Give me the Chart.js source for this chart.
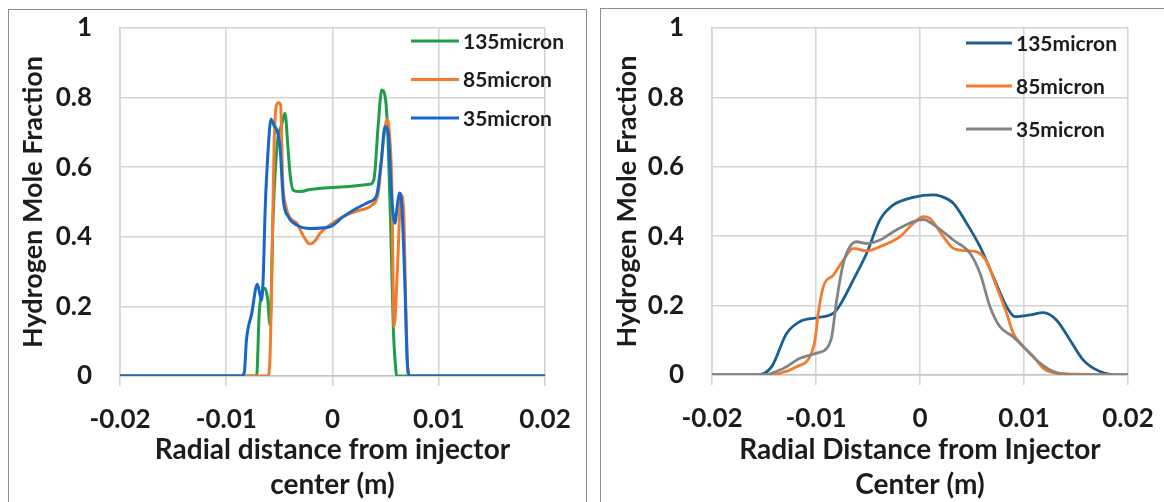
<!DOCTYPE html>
<html>
<head>
<meta charset="utf-8">
<script src="https://cdn.jsdelivr.net/npm/chart.js@4.4.1/dist/chart.umd.min.js"></script>
<style>
  html, body { margin: 0; padding: 0; background: #fff; }
  body { width: 1164px; height: 502px; position: relative; overflow: hidden; }
  .panel { position: absolute; border: 1.5px solid #8c8c8c; box-sizing: border-box; }
  canvas { position: absolute; }
</style>
</head>
<body>
<div class="panel" style="left:8px; top:9px; width:579px; height:520px;"></div>
<div class="panel" style="left:600px; top:8px; width:600px; height:520px;"></div>
<canvas id="chartLeft" width="575" height="491" style="left:10px; top:11px;"></canvas>
<canvas id="chartRight" width="562" height="492" style="left:602px; top:10px;"></canvas>
<script>
// ejes comunes
const xTickValues = [-0.02, -0.01, 0, 0.01, 0.02];
const xTickLabels = ['-0.02', '-0.01', '0', '0.01', '0.02'];
const yTickValues = [0, 0.2, 0.4, 0.6, 0.8, 1];
const yTickLabels = ['0', '0.2', '0.4', '0.6', '0.8', '1'];
const seriesNames = ['135micron', '85micron', '35micron'];

// panel izquierdo: Radial distance from injector center
const left135x = [-0.02, -0.00714, -0.0069, -0.00665, -0.00635, -0.0061, -0.00588, -0.0056, -0.0052, -0.0048, -0.00447, -0.0042, -0.004, -0.0037, -0.00306, -0.00212, 0, 0.00353, 0.0039, 0.0043, 0.00463, 0.005, 0.00525, 0.0055, 0.00573, 0.0059, 0.00605, 0.02];
const left135y = [0, 0, 0.18, 0.24, 0.252, 0.22, 0.147, 0.45, 0.668, 0.72, 0.755, 0.66, 0.582, 0.534, 0.53, 0.536, 0.542, 0.551, 0.565, 0.72, 0.822, 0.793, 0.659, 0.4, 0.132, 0.04, 0, 0];
const left85x = [-0.02, -0.0061, -0.0059, -0.00572, -0.0055, -0.0053, -0.0051, -0.00488, -0.00469, -0.00438, -0.004, -0.00337, -0.0027, -0.00212, -0.0016, -0.00118, -0.00024, 0.001, 0.00228, 0.00369, 0.0043, 0.0048, 0.00516, 0.0054, 0.00557, 0.0058, 0.0061, 0.00645, 0.0067, 0.0069, 0.00715, 0.02];
const left85y = [0, 0, 0.04, 0.276, 0.659, 0.775, 0.785, 0.779, 0.563, 0.487, 0.455, 0.439, 0.4, 0.379, 0.39, 0.41, 0.434, 0.458, 0.474, 0.491, 0.525, 0.68, 0.738, 0.68, 0.563, 0.142, 0.3, 0.52, 0.47, 0.2, 0, 0];
const left35x = [-0.02, -0.0086, -0.0083, -0.0081, -0.0076, -0.00708, -0.00667, -0.0065, -0.00635, -0.00604, -0.00579, -0.0055, -0.00525, -0.00494, -0.00463, -0.00416, -0.00337, -0.00212, -0.00024, 0.00102, 0.00228, 0.00353, 0.00416, 0.0046, 0.00494, 0.00525, 0.00557, 0.00588, 0.0061, 0.0063, 0.0065, 0.0068, 0.00704, 0.0073, 0.02];
const left35y = [0, 0, 0.01, 0.103, 0.18, 0.264, 0.218, 0.3, 0.468, 0.659, 0.738, 0.72, 0.707, 0.659, 0.506, 0.458, 0.434, 0.424, 0.429, 0.458, 0.482, 0.501, 0.52, 0.62, 0.716, 0.697, 0.515, 0.439, 0.49, 0.526, 0.5, 0.276, 0.037, 0, 0];

// panel derecho: Radial Distance from Injector Center
const right135x = [-0.02, -0.0157, -0.01426, -0.01282, -0.01154, -0.00993, -0.00833, -0.00769, -0.00641, -0.00513, -0.00385, -0.00257, -0.00064, 0.00128, 0.00192, 0.0032, 0.00449, 0.00577, 0.00705, 0.00833, 0.00913, 0.01058, 0.01186, 0.01314, 0.01442, 0.0157, 0.01731, 0.0192, 0.02];
const right135y = [0, 0, 0.024, 0.12, 0.154, 0.165, 0.178, 0.202, 0.274, 0.351, 0.447, 0.49, 0.512, 0.519, 0.516, 0.495, 0.437, 0.37, 0.283, 0.197, 0.168, 0.173, 0.18, 0.158, 0.101, 0.043, 0.01, 0, 0];
const right85x = [-0.02, -0.01474, -0.01346, -0.01186, -0.01058, -0.0101, -0.00978, -0.0093, -0.00833, -0.00737, -0.00641, -0.00513, -0.00385, -0.00192, -0.00064, 0.00032, 0.00096, 0.00224, 0.0032, 0.00449, 0.00545, 0.00641, 0.00737, 0.00833, 0.00897, 0.00993, 0.0109, 0.01186, 0.01314, 0.02];
const right85y = [0, 0, 0.005, 0.024, 0.053, 0.1, 0.178, 0.254, 0.288, 0.331, 0.365, 0.358, 0.37, 0.399, 0.437, 0.456, 0.451, 0.399, 0.365, 0.358, 0.355, 0.327, 0.254, 0.178, 0.12, 0.082, 0.053, 0.019, 0.005, 0];
const right35x = [-0.02, -0.01506, -0.01314, -0.01154, -0.00993, -0.00897, -0.00849, -0.00801, -0.00737, -0.00673, -0.00609, -0.00513, -0.00385, -0.00257, -0.00064, 0.00032, 0.0016, 0.0032, 0.00481, 0.00577, 0.00673, 0.00769, 0.00897, 0.01026, 0.01154, 0.01282, 0.0145, 0.02];
const right35y = [0, 0, 0.019, 0.048, 0.063, 0.077, 0.11, 0.216, 0.322, 0.37, 0.384, 0.379, 0.389, 0.413, 0.442, 0.448, 0.427, 0.389, 0.351, 0.293, 0.197, 0.139, 0.11, 0.072, 0.034, 0.01, 0, 0];

const FONT = 'Lato, "Open Sans", sans-serif';
const TEXT = '#1c1c1c';
const GRID = '#d4d4d4';

const toPoints = (xs, ys) => xs.map((x, i) => ({x: x, y: ys[i]}));

// leyenda dibujada dentro del area del grafico
const insideLegend = {
    id: 'insideLegend',
    afterDatasetsDraw(chart, args, opts) {
        const ctx = chart.ctx;
        const area = chart.chartArea;
        ctx.save();
        ctx.font = 'bold 21px ' + FONT;
        ctx.textBaseline = 'middle';
        ctx.textAlign = 'left';
        chart.data.datasets.forEach((ds, i) => {
            const x0 = area.right + opts.dx;
            const y = area.top + opts.dy + i * opts.gap;
            ctx.strokeStyle = ds.borderColor;
            ctx.lineWidth = 3;
            ctx.beginPath();
            ctx.moveTo(x0, y);
            ctx.lineTo(x0 + opts.lineLen, y);
            ctx.stroke();
            ctx.fillStyle = TEXT;
            ctx.fillText(ds.label, x0 + opts.lineLen + 4, y + 1);
        });
        ctx.restore();
    }
};

function makeChart(id, xsList, ysList, colors, layout) {
    const ctx = document.getElementById(id).getContext('2d');
    const datasets = xsList.map((xs, i) => ({
        label: seriesNames[i],
        data: toPoints(xs, ysList[i]),
        borderColor: colors[i],
        borderWidth: layout.lineWidth,
        pointRadius: 0,
        cubicInterpolationMode: 'monotone',
        order: 3 - i
    }));
    return new Chart(ctx, {
        type: 'line',
        data: {datasets: datasets},
        options: {
            responsive: false,
            animation: false,
            layout: {padding: {top: layout.top, right: layout.right, left: 0, bottom: 0}},
            scales: {
                x: {
                    type: 'linear',
                    min: -0.02,
                    max: 0.02,
                    afterBuildTicks: s => { s.ticks = xTickValues.map(v => ({value: v})); },
                    afterFit: s => {
                        s.height = layout.xHeight;
                        s.paddingLeft = 0;
                        s.paddingRight = 0;
                    },
                    grid: {color: GRID, lineWidth: 1.6, tickLength: 10},
                    border: {color: '#c4c4c4', width: 1.6},
                    ticks: {
                        padding: 18,
                        color: TEXT,
                        font: {family: FONT, size: 26, weight: 'bold'},
                        callback: (v, i) => xTickLabels[i]
                    },
                    title: {
                        display: true,
                        text: layout.xTitle,
                        color: TEXT,
                        font: {family: FONT, size: 28, weight: 'bold', lineHeight: 1.25},
                        padding: {top: 0, bottom: 0}
                    }
                },
                y: {
                    min: 0,
                    max: 1,
                    afterBuildTicks: s => { s.ticks = yTickValues.map(v => ({value: v})); },
                    afterFit: s => {
                        // el padding de las etiquetas no debe empujar el area del grafico
                        s.width = 110;
                        s.paddingTop = 14;
                        s.paddingBottom = 14;
                    },
                    grid: {color: GRID, lineWidth: 1.6, drawTicks: false},
                    border: {color: GRID, width: 1.6},
                    ticks: {
                        padding: 28,
                        color: TEXT,
                        font: {family: FONT, size: 26, weight: 'bold'},
                        callback: (v, i) => yTickLabels[i]
                    },
                    title: {
                        display: true,
                        text: 'Hydrogen Mole Fraction',
                        color: TEXT,
                        font: {family: FONT, size: 27, weight: 'bold'},
                        padding: {top: layout.yTitlePad, bottom: 0}
                    }
                }
            },
            plugins: {
                legend: {display: false},
                tooltip: {enabled: false},
                insideLegend: layout.legend
            }
        },
        plugins: [insideLegend]
    });
}

document.addEventListener('DOMContentLoaded', () => {
    makeChart('chartLeft',
        [left135x, left85x, left35x],
        [left135y, left85y, left35y],
        ['#1f9e49', '#f27c2e', '#1767c9'],
        {top: 17, right: 40, xHeight: 126, yTitlePad: 7, lineWidth: 3,
         xTitle: ['Radial distance from injector', 'center (m)'],
         legend: {dx: -134, dy: 13, gap: 38.5, lineLen: 48}});

    makeChart('chartRight',
        [right135x, right85x, right35x],
        [right135y, right85y, right35y],
        ['#1a5f8e', '#f27c2e', '#848484'],
        {top: 18, right: 36, xHeight: 127, yTitlePad: 9, lineWidth: 2.8,
         xTitle: ['Radial Distance from Injector', 'Center (m)'],
         legend: {dx: -162, dy: 15, gap: 43, lineLen: 46}});
});
</script>
</body>
</html>
